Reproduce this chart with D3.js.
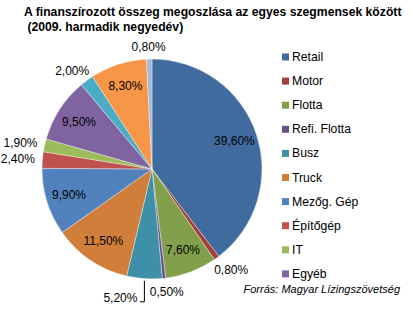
<!DOCTYPE html>
<html>
<head>
<meta charset="utf-8">
<script src="https://cdn.jsdelivr.net/npm/d3@7"></script>
<style>
  html, body { margin: 0; padding: 0; background: #fff; }
  svg { display: block; }
</style>
</head>
<body>
<svg id="chart" width="413" height="325"></svg>
<script>
// Share of financed amount by segment, Q3 2009 (percent)
const segments = ["Retail", "Motor", "Flotta", "Refi. Flotta", "Busz", "Truck",
                  "Mezőg. Gép", "Építőgép", "IT", "Egyéb", "", "", ""];
const shares   = [39.6, 0.8, 7.6, 0.5, 5.2, 11.5, 9.9, 2.4, 1.9, 9.5, 2.0, 8.3, 0.8];
const sliceColors = ["#406B9F", "#A2403D", "#82A04B", "#6A5189", "#3D90A8", "#D17E3B",
                     "#5182BE", "#C1514E", "#9CBB5A", "#8064A2", "#4BACC6", "#F79646", "#A6B9DA"];
const legendCount = 10;
const titleLines = ["A finanszírozott összeg megoszlása az egyes szegmensek között",
                    " (2009. harmadik negyedév)"];
const sourceText = "Forrás: Magyar Lízingszövetség";

const svg = d3.select("#chart");
const cx = 152, cy = 169, R = 110;
const fmt = v => v.toFixed(2).replace(".", ",") + "%";

// Title
svg.append("g").selectAll("text").data(titleLines).join("text")
  .attr("x", (d, i) => i === 0 ? 24 : 24)
  .attr("y", (d, i) => 16 + i * 15)
  .attr("font-family", "Liberation Sans, Arial, sans-serif")
  .attr("font-weight", "bold")
  .attr("font-size", 12.2)
  .attr("xml:space", "preserve")
  .style("white-space", "pre")
  .text(d => d);

const pie = d3.pie().sort(null).value(d => d)(shares);
const arc = d3.arc().innerRadius(0).outerRadius(R);
const g = svg.append("g").attr("transform", `translate(${cx},${cy})`);

g.selectAll("path").data(pie).join("path")
  .attr("d", arc)
  .attr("fill", (d, i) => sliceColors[i])
  .attr("stroke", "#ffffff")
  .attr("stroke-opacity", 0.6)
  .attr("stroke-width", 0.6);

// Data labels: large slices inside, small ones just outside the rim
const labelFont = "Liberation Sans, Arial, sans-serif";
const mid = d => (d.startAngle + d.endAngle) / 2;
const charW = 6.8, boxH = 13;

pie.forEach((d, i) => {
  const a = mid(d);
  const s = Math.sin(a), c = -Math.cos(a);
  const txt = fmt(d.value);
  const w = txt.length * charW * 0.98;
  let x, y, anchor = "middle";
  if (d.value >= 5.5) {
    x = s * 87; y = c * 87;
  } else if (segments[i] === "Busz") {
    // leader line from the rim, label placed to the left
    const ex = s * R, ey = c * R + 2;
    const ly = ey + 21;
    g.append("path")
      .attr("d", `M${ex},${ey}V${ly}H${ex - 4.5}`)
      .attr("fill", "none").attr("stroke", "#000").attr("stroke-width", 1);
    x = ex - 7; y = ly - 4; anchor = "end";
  } else {
    const gap = R + 8;
    x = s * gap + s * w / 2;
    y = c * gap + c * boxH * 0.3 + (c > 0 ? 2 : 0);
  }
  g.append("text")
    .attr("x", x).attr("y", y)
    .attr("text-anchor", anchor)
    .attr("dominant-baseline", "central")
    .attr("font-family", labelFont)
    .attr("font-size", 12)
    .attr("fill", "#000")
    .text(txt);
});

// Legend
const legend = svg.append("g");
const leg = legend.selectAll("g").data(segments.slice(0, legendCount)).join("g")
  .attr("transform", (d, i) => `translate(282, ${57 + i * 24.1})`);
leg.append("rect").attr("x", 0).attr("y", -3.5).attr("width", 7).attr("height", 7)
  .attr("fill", (d, i) => sliceColors[i]);
leg.append("text").attr("x", 10).attr("y", 0)
  .attr("dominant-baseline", "central")
  .attr("font-family", labelFont).attr("font-size", 12.2)
  .text(d => d);

// Source note
svg.append("text")
  .attr("x", 400).attr("y", 293)
  .attr("text-anchor", "end")
  .attr("font-family", "Liberation Sans, Arial, sans-serif")
  .attr("font-style", "italic")
  .attr("font-size", 11)
  .text(sourceText);
</script>
</body>
</html>
